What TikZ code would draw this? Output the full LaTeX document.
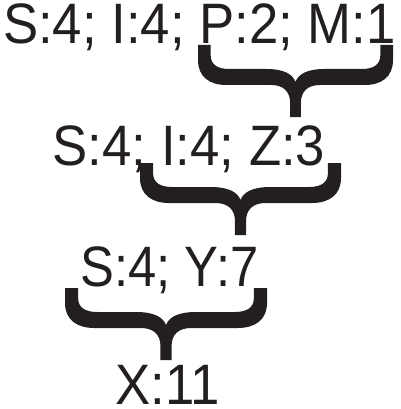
\documentclass[tikz,border=0pt]{standalone}
\usepackage{fontspec}
\newfontfamily\lblfont[FakeStretch=0.925]{Liberation Sans}
\newfontfamily\lblfontn[FakeStretch=0.89]{Liberation Sans}
\definecolor{ink}{RGB}{35,31,32}
\tikzset{
  lbl/.style={font=\lblfont\fontsize{57}{57}\selectfont, text=ink, inner sep=0pt, outer sep=0pt,
    text height=41pt, text depth=0pt, anchor=base},
  lbln/.style={lbl, font=\lblfontn\fontsize{57}{57}\selectfont},
  pics/curlybrace/.style={code={
    \fill[ink] (-100,0) -- (-100,15)
      .. controls (-100,32) and (-88,40) .. (-71,40)
      -- (-25,40)
      .. controls (-12,40) and (-5.5,47) .. (-5.5,58)
      -- (-5.5,72) -- (5.5,72) -- (5.5,58)
      .. controls (5.5,47) and (12,40) .. (25,40)
      -- (71,40)
      .. controls (88,40) and (100,32) .. (100,15)
      -- (100,0) -- (87,0) -- (87,10)
      .. controls (87,19) and (81,24) .. (68,24)
      -- (30,24)
      .. controls (12,24) and (3,29) .. (0,37)
      .. controls (-3,29) and (-12,24) .. (-30,24)
      -- (-68,24)
      .. controls (-81,24) and (-87,19) .. (-87,10)
      -- (-87,0) -- cycle;
  }}
}
\begin{document}
\begin{tikzpicture}[x=1pt,y=-1pt]
\useasboundingbox (0,0) rectangle (400,409);
\node[lbl] (l1) at (199.5,43.5) {S:4; I:4; P:2; M:1};
\node[lbl] (l2) at (189,165) {S:4; I:4; Z:3};
\node[lbln] (l3) at (169.5,286) {S:4; Y:7};
\node[lbl] (l4) at (167.5,404.5) {X:11};
\pic[xscale=0.975] (b1) at (295.5,45) {curlybrace};
\pic[xscale=1.005] (b2) at (240.5,163) {curlybrace};
\pic[xscale=1.01] (b3) at (166,288) {curlybrace};
\end{tikzpicture}
\end{document}
